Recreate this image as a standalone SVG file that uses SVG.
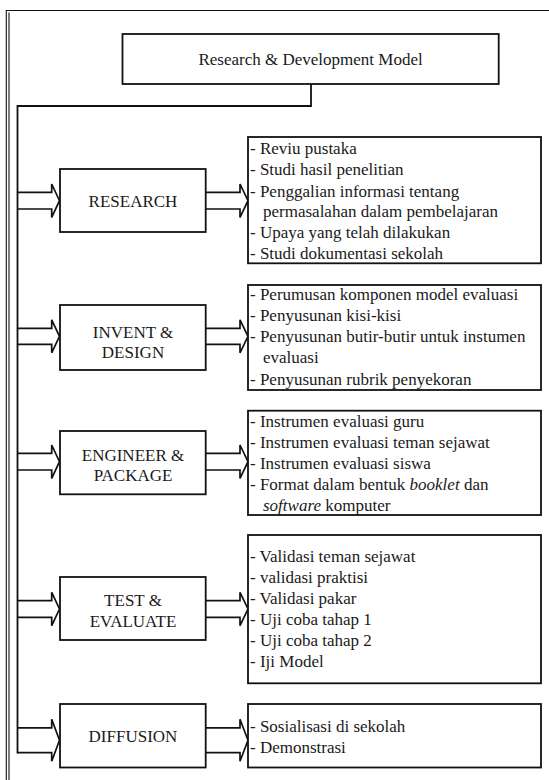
<svg xmlns="http://www.w3.org/2000/svg" width="549" height="780" viewBox="0 0 549 780" font-family="'Liberation Serif', 'Times New Roman', serif" font-size="17">
<style>
  .frame{fill:none;stroke:#111;stroke-width:1.1}
  .box{fill:#fff;stroke:#111;stroke-width:1.8}
  .conn{fill:none;stroke:#111;stroke-width:1.8}
  .arrow{fill:#fff;stroke:#111;stroke-width:1.7;stroke-linejoin:miter}
  text{fill:#1a1a1a}
  .c{text-anchor:middle}
  .i{font-style:italic}
</style>
<rect width="549" height="780" fill="#fff"/>
<g id="frame">
  <path class="frame" d="M6.3,780 V10.5 H549 M9,780 V12.5"/>
</g>
<g id="title">
  <rect class="box" x="122.5" y="34" width="376.2" height="50"/>
  <text class="c" x="310.6" y="65">Research &amp; Development Model</text>
</g>
<g id="connectors">
  <path class="arrow" d="M17.5,192.4 H51.7 V184 L59.5,200.7 L51.7,217.4 V209 H17.5"/>
  <path class="arrow" d="M205.7,192.4 H240 V184 L248,200.7 L240,217.4 V209 H205.7"/>
  <path class="arrow" d="M17.5,328.3 H51.7 V319.8 L59.5,336.3 L51.7,352.8 V344.3 H17.5"/>
  <path class="arrow" d="M205.7,328.3 H240 V319.8 L248,336.3 L240,352.8 V344.3 H205.7"/>
  <path class="arrow" d="M17.5,453.4 H51.7 V445 L59.5,461.7 L51.7,478.4 V470 H17.5"/>
  <path class="arrow" d="M205.7,453.4 H240 V445 L248,461.7 L240,478.4 V470 H205.7"/>
  <path class="arrow" d="M17.5,600.7 H51.7 V592.3 L59.5,609 L51.7,625.7 V617.3 H17.5"/>
  <path class="arrow" d="M205.7,600.7 H240 V592.3 L248,609 L240,625.7 V617.3 H205.7"/>
  <path class="arrow" d="M17.5,727.8 H51.7 V719.3 L59.5,740.2 L51.7,761.2 V752.6 H17.5"/>
  <path class="arrow" d="M205.7,727.8 H240 V719.3 L248,740.2 L240,761.2 V752.6 H205.7"/>
  <path class="conn" d="M311,84 V106 H17.5 V753.5"/>
</g>
<g id="research">
  <rect class="box" x="60" y="169" width="145.7" height="63"/>
  <text class="c" x="133" y="207">RESEARCH</text>
</g>
<g id="research-detail">
  <rect class="box" x="248" y="137" width="293" height="126.3"/>
  <text x="250" y="153.5">- Reviu pustaka</text>
  <text x="250" y="175">- Studi hasil penelitian</text>
  <text x="250" y="196.5">- Penggalian informasi tentang</text>
  <text x="263" y="217">permasalahan dalam pembelajaran</text>
  <text x="250" y="238">- Upaya yang telah dilakukan</text>
  <text x="250" y="259">- Studi dokumentasi sekolah</text>
</g>
<g id="invent">
  <rect class="box" x="60" y="305" width="145.7" height="65"/>
  <text class="c" x="133" y="337.5">INVENT &amp;</text>
  <text class="c" x="133" y="357.5">DESIGN</text>
</g>
<g id="invent-detail">
  <rect class="box" x="248" y="285" width="293" height="105"/>
  <text x="250" y="300">- Perumusan komponen model evaluasi</text>
  <text x="250" y="321">- Penyusunan kisi-kisi</text>
  <text x="250" y="342">- Penyusunan butir-butir untuk instumen</text>
  <text x="263" y="363">evaluasi</text>
  <text x="250" y="385">- Penyusunan rubrik penyekoran</text>
</g>
<g id="engineer">
  <rect class="box" x="60" y="431" width="145.7" height="63.3"/>
  <text class="c" x="133" y="460.6">ENGINEER &amp;</text>
  <text class="c" x="133" y="480.6">PACKAGE</text>
</g>
<g id="engineer-detail">
  <rect class="box" x="248" y="410.7" width="293" height="104.3"/>
  <text x="250" y="426.5">- Instrumen evaluasi guru</text>
  <text x="250" y="447.5">- Instrumen evaluasi teman sejawat</text>
  <text x="250" y="468.5">- Instrumen evaluasi siswa</text>
  <text x="250" y="489.5">- Format dalam bentuk <tspan class="i">booklet</tspan> dan</text>
  <text x="263" y="510.5"><tspan class="i">software</tspan> komputer</text>
</g>
<g id="test">
  <rect class="box" x="60" y="577" width="145.7" height="63"/>
  <text class="c" x="133" y="605.6">TEST &amp;</text>
  <text class="c" x="133" y="626.6">EVALUATE</text>
</g>
<g id="test-detail">
  <rect class="box" x="248" y="535" width="293" height="148.3"/>
  <text x="250" y="561.5">- Validasi teman sejawat</text>
  <text x="250" y="582.5">- validasi praktisi</text>
  <text x="250" y="603.5">- Validasi pakar</text>
  <text x="250" y="624.5">- Uji coba tahap 1</text>
  <text x="250" y="645.5">- Uji coba tahap 2</text>
  <text x="250" y="666.5">- Iji Model</text>
</g>
<g id="diffusion">
  <rect class="box" x="60" y="704" width="145.7" height="63.5"/>
  <text class="c" x="133" y="742.3">DIFFUSION</text>
</g>
<g id="diffusion-detail">
  <rect class="box" x="248" y="704" width="293" height="63.5"/>
  <text x="250" y="731.5">- Sosialisasi di sekolah</text>
  <text x="250" y="752.5">- Demonstrasi</text>
</g>
</svg>
